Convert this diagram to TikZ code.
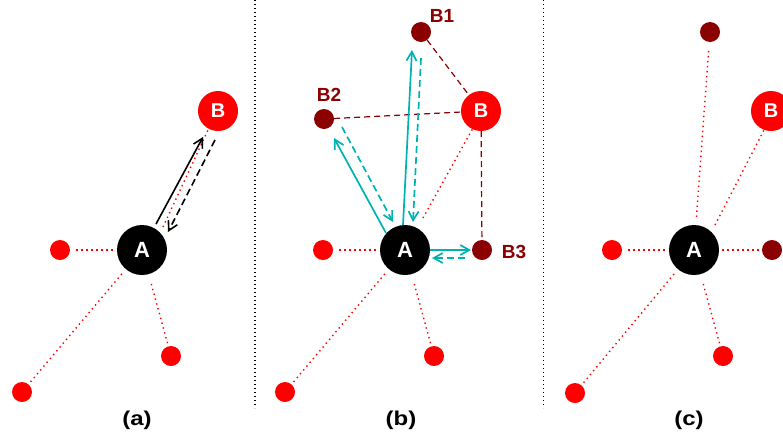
\documentclass[tikz,border=0pt]{standalone}
\usepackage{fontspec}
\setmainfont{Liberation Sans}
\usepackage{graphicx}
\usetikzlibrary{arrows.meta,calc}
\definecolor{nred}{RGB}{255,0,0}
\definecolor{dred}{RGB}{139,0,0}
\definecolor{tealc}{RGB}{0,178,178}
\tikzset{
 nodeA/.style={circle,fill=black,inner sep=0pt,minimum size=50pt,text=white,font=\fontsize{22}{22}\selectfont\bfseries},
 nodeB/.style={circle,fill=nred,inner sep=0pt,minimum size=40pt,text=white,font=\fontsize{20}{20}\selectfont\bfseries},
 smallred/.style={circle,fill=nred,inner sep=0pt,minimum size=20pt},
 smalldark/.style={circle,fill=dred,inner sep=0pt,minimum size=20pt},
 blab/.style={text=dred,font=\fontsize{19}{19}\selectfont\bfseries,inner sep=0pt},
 caption/.style={font=\fontsize{20}{20}\selectfont\bfseries,inner sep=0pt},
 reddot/.style={draw=nred,line width=1.4pt,dash pattern=on 1.4pt off 3.6pt},
 sepline/.style={draw=black,line width=1.1pt,dash pattern=on 1.1pt off 2.9pt},
 drdash/.style={draw=dred,line width=1.2pt,dash pattern=on 6pt off 4pt},
 tipv/.style={-{Straight Barb[length=9pt,width=10pt]}},
 blksolid/.style={draw=black,line width=1.6pt,tipv},
 blkdash/.style={draw=black,line width=1.6pt,dash pattern=on 7pt off 4pt,tipv},
 tsolid/.style={draw=tealc,line width=1.7pt,tipv},
 tdash/.style={draw=tealc,line width=1.7pt,dash pattern=on 7pt off 4pt,tipv},
}
\begin{document}
\begin{tikzpicture}[x=1pt,y=-1pt]
\useasboundingbox (0,0) rectangle (783,437);
\clip (0,0) rectangle (783,437);
% separators
\coordinate (s1t) at (255,0); \coordinate (s1b) at (255,408);
\coordinate (s2t) at (543.5,0); \coordinate (s2b) at (543.5,408);
\draw[sepline] (s1t) -- (s1b);
\draw[sepline] (s2t) -- (s2b);

% ---------- panel (a)
\node[nodeA] (Aa) at (142,250) {A};
\node[nodeB] (Ba) at (218,111) {B};
\node[smallred] (La) at (60,250) {};
\node[smallred] (BLa) at (22,392) {};
\node[smallred] (BRa) at (171,356) {};
\draw[reddot,shorten <=4pt,shorten >=5pt] (Aa) -- (La);
\draw[reddot,shorten <=6pt,shorten >=3pt] (Aa) -- (BLa);
\draw[reddot,shorten <=10pt,shorten >=3pt] (Aa) -- (BRa);
\draw[reddot] ($(Aa)+(21,-23)$) -- ($(Ba)+(-10,19)$);
\draw[blksolid] ($(Aa)+(14,-26)$) -- ($(Ba)+(-15,26)$);
\draw[blkdash] ($(Ba)+(-3,29)$) -- ($(Aa)+(26,-18)$);
\node[caption] (capa) at (137,420) {\scalebox{1.2}[1]{(a)}};

% ---------- panel (b)
\node[nodeA] (Ab) at (405,250) {A};
\node[nodeB] (Bb) at (481,111) {B};
\node[smallred] (Lb) at (323,250) {};
\node[smallred] (BLb) at (285,392) {};
\node[smallred] (BRb) at (434,356) {};
\node[smalldark] (B1) at (421,32) {};
\node[smalldark] (B2) at (324,119) {};
\node[smalldark] (B3) at (482,250) {};
\node[blab] (lB1) at (442,16) {B1};
\node[blab] (lB2) at (329,95) {B2};
\node[blab] (lB3) at (514,252) {B3};
\draw[reddot,shorten <=4pt,shorten >=5pt] (Ab) -- (Lb);
\draw[reddot,shorten <=6pt,shorten >=3pt] (Ab) -- (BLb);
\draw[reddot,shorten <=10pt,shorten >=3pt] (Ab) -- (BRb);
\draw[reddot] ($(Ab)+(18,-32)$) -- ($(Bb)+(-8,17)$);
\draw[drdash] (B1) -- (Bb);
\draw[drdash] (B2) -- (Bb);
\draw[drdash] (Bb) -- (B3);
\draw[tsolid] ($(Ab)+(-19,-17)$) -- ($(B2)+(10,19)$);
\draw[tdash] ($(B2)+(18,8)$) -- ($(Ab)+(-12,-28)$);
\draw[tsolid] ($(Ab)+(-2,-25)$) -- ($(B1)+(-9,18)$);
\draw[tdash] ($(B1)+(0,26)$) -- ($(Ab)+(8,-28)$);
\draw[tsolid] ($(Ab)+(25,0)$) -- ($(B3)+(-11,0)$);
\draw[tdash] ($(B3)+(-17,8)$) -- ($(Ab)+(27,8)$);
\node[caption] (capb) at (401,420) {\scalebox{1.2}[1]{(b)}};

% ---------- panel (c)
\node[nodeA] (Ac) at (694,250) {A};
\node[nodeB] (Bc) at (771,111) {B};
\node[smallred] (Lc) at (612,250) {};
\node[smallred] (BLc) at (575,393) {};
\node[smallred] (BRc) at (723,356) {};
\node[smalldark] (B1c) at (710,32) {};
\node[smalldark] (B3c) at (772,250) {};
\draw[reddot,shorten <=4pt,shorten >=5pt] (Ac) -- (Lc);
\draw[reddot,shorten <=6pt,shorten >=3pt] (Ac) -- (BLc);
\draw[reddot,shorten <=10pt,shorten >=3pt] (Ac) -- (BRc);
\draw[reddot] ($(Ac)+(21,-25)$) -- ($(Bc)+(-7,19)$);
\draw[reddot,shorten <=8pt,shorten >=6pt] (Ac) -- (B1c);
\draw[reddot,shorten <=3pt,shorten >=1pt] (Ac) -- (B3c);
\node[caption] (capc) at (689,420) {\scalebox{1.2}[1]{(c)}};
\end{tikzpicture}
\end{document}
